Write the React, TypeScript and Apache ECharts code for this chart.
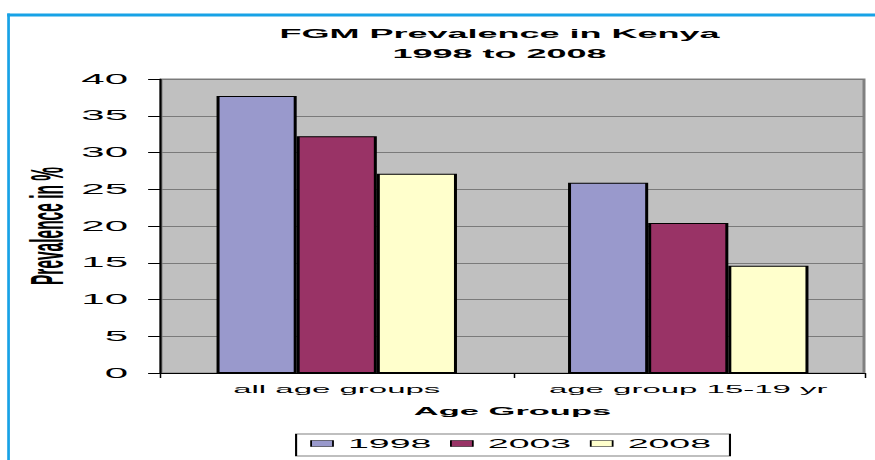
import React, { useEffect, useRef } from "react";
import * as echarts from "echarts";

// The reference is a horizontally stretched chart: draw it narrow, stretch with CSS.
const S = 3;
const W = 875 / S;
const H = 460;

const FONT = "'Liberation Sans', Arial, sans-serif";

const title = "FGM Prevalence in Kenya\n1998 to 2008";
const categories = ["all age groups", "age group 15-19 yr"];
const seriesNames = ["1998", "2003", "2008"];
const values1998 = [37.7, 25.9];
const values2003 = [32.2, 20.4];
const values2008 = [27.1, 14.6];
const seriesColors = ["#9999cc", "#993366", "#ffffcc"];
const yMin = 0;
const yMax = 40;
const yStep = 5;
const xAxisTitle = "Age Groups";
const yAxisTitle = "Prevalence in %";

export default function App() {
  const ref = useRef<HTMLDivElement>(null);

  useEffect(() => {
    document.body.style.margin = "0";
    document.body.style.overflow = "hidden";
    const chart = echarts.init(ref.current!, null, { renderer: "svg" });
    const seriesValues = [values1998, values2003, values2008];
    chart.setOption({
      animation: false,
      backgroundColor: "#ffffff",
      title: {
        text: title,
        left: 166.5,
        top: 24,
        padding: 0,
        textAlign: "center",
        textStyle: {
          fontFamily: FONT,
          fontSize: 12,
          fontWeight: "bold",
          color: "#000",
          lineHeight: 20,
        },
      },
      graphic: [
        {
          type: "rect",
          shape: { x: 2.4, y: 13.5, width: W, height: 3 },
          style: { fill: "#17a2e6" },
        },
        {
          type: "rect",
          shape: { x: 2.4, y: 13.5, width: 0.9, height: H },
          style: { fill: "#17a2e6" },
        },
      ],
      legend: {
        left: 98.7,
        top: 434,
        orient: "horizontal",
        icon: "rect",
        itemWidth: 7.3,
        itemHeight: 6,
        itemGap: 6.2,
        padding: [3, 6.3, 6, 4.7],
        borderColor: "#000",
        borderWidth: 0.7,
        itemStyle: { borderColor: "#000", borderWidth: 0.6 },
        textStyle: { fontFamily: FONT, fontSize: 12.5, color: "#000" },
        data: seriesNames,
      },
      grid: {
        left: 53.67,
        right: 4,
        top: 79,
        bottom: 87,
        outerBoundsMode: "none",
        containLabel: false,
        show: true,
        backgroundColor: "#c0c0c0",
        borderColor: "#808080",
        borderWidth: 1,
      },
      xAxis: {
        type: "category",
        data: categories,
        axisLine: { show: true, lineStyle: { color: "#000", width: 1 } },
        axisTick: { show: true, length: 5, lineStyle: { color: "#000", width: 0.5 } },
        axisLabel: {
          fontFamily: FONT,
          fontSize: 11,
          color: "#000",
          margin: 11,
          interval: 0,
          hideOverlap: false,
        },
        name: xAxisTitle,
        nameLocation: "middle",
        nameGap: 32,
        nameMoveOverlap: false,
        nameTextStyle: { fontFamily: FONT, fontSize: 11.5, fontWeight: "bold", color: "#000" },
      },
      yAxis: {
        type: "value",
        min: yMin,
        max: yMax,
        interval: yStep,
        axisLine: { show: true, lineStyle: { color: "#000", width: 0.7 } },
        axisTick: { show: true, length: 4.3, lineStyle: { color: "#000", width: 1 } },
        axisLabel: { fontFamily: FONT, fontSize: 14, color: "#000", margin: 11 },
        splitLine: { show: true, lineStyle: { color: "#7a7a7a", width: 1 } },
        name: yAxisTitle,
        nameLocation: "middle",
        nameGap: 30,
        nameMoveOverlap: false,
        nameTextStyle: { fontFamily: FONT, fontSize: 15.5, fontWeight: "bold", color: "#000" },
      },
      series: seriesNames.map((name, i) => ({
        name,
        type: "bar",
        data: seriesValues[i],
        barGap: "0%",
        barCategoryGap: "31.6%",
        itemStyle: { color: seriesColors[i], borderColor: "#000", borderWidth: 1 },
      })),
    });
    return () => chart.dispose();
  }, []);

  return (
    <div
      ref={ref}
      style={{
        position: "absolute",
        left: 0,
        top: 0,
        width: W,
        height: H,
        transform: `scaleX(${S})`,
        transformOrigin: "0 0",
      }}
    />
  );
}
